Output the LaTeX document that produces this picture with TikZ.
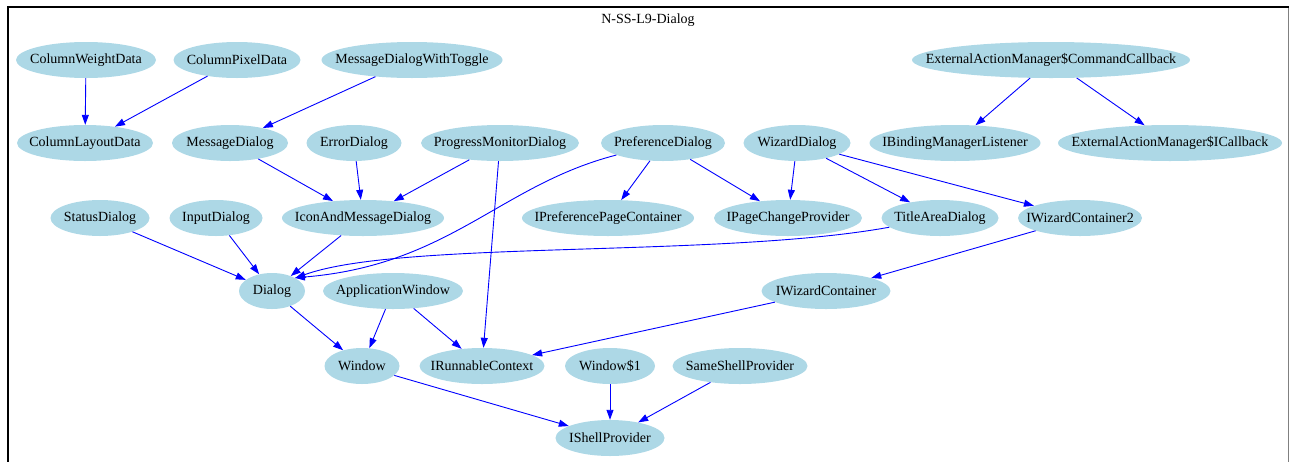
\documentclass[tikz,border=0pt]{standalone}
\usepackage{fontspec}
\setmainfont{Liberation Serif}
\usetikzlibrary{shapes.geometric,arrows.meta}
\definecolor{nodeblue}{HTML}{ADD8E6}
\begin{document}
\begin{tikzpicture}[x=1pt,y=-1pt,
  nd/.style={ellipse, fill=nodeblue, minimum height=36pt, inner sep=0pt,
    font=\fontsize{14}{16}\selectfont,
    execute at begin node={\hbox to 0pt\bgroup\hss},
    execute at end node={\hss\egroup}},
  edge/.style={draw=blue, line width=0.9pt, -{Triangle[length=10pt,width=7pt]}}]
\useasboundingbox (0,0) rectangle (1289,461);
\draw[line width=2pt] (8,462) -- (8,7) -- (1289,7);
\draw[gray, line width=1pt] (1288,8) -- (1288,462);
\node[font=\fontsize{14}{16}\selectfont] (title) at (648,20) {N-SS-L9-Dialog};
% row 1
\node[nd, minimum width=140pt] (cwd) at (86,60) {ColumnWeightData};
\node[nd, minimum width=127pt] (cpd) at (237,60) {ColumnPixelData};
\node[nd, minimum width=181pt] (mdwt) at (412,60) {MessageDialogWithToggle};
\node[nd, minimum width=278pt] (eamcc) at (1051,60) {ExternalActionManager\$CommandCallback};
% row 2
\node[nd, minimum width=136pt] (cld) at (85,143) {ColumnLayoutData};
\node[nd, minimum width=116pt] (md) at (230,143) {MessageDialog};
\node[nd, minimum width=95pt] (ed) at (354,143) {ErrorDialog};
\node[nd, minimum width=158pt] (pmd) at (500,143) {ProgressMonitorDialog};
\node[nd, minimum width=124pt] (pd) at (663,143) {PreferenceDialog};
\node[nd, minimum width=107pt] (wd) at (797,143) {WizardDialog};
\node[nd, minimum width=171pt] (ibml) at (955,143) {IBindingManagerListener};
\node[nd, minimum width=224pt] (eamic) at (1170,143) {ExternalActionManager\$ICallback};
% row 3
\node[nd, minimum width=99pt] (sd) at (100,218) {StatusDialog};
\node[nd, minimum width=93pt] (id) at (216,218) {InputDialog};
\node[nd, minimum width=162pt] (iamd) at (363,218) {IconAndMessageDialog};
\node[nd, minimum width=172pt] (ippc) at (608,218) {IPreferencePageContainer};
\node[nd, minimum width=148pt] (ipcp) at (788,218) {IPageChangeProvider};
\node[nd, minimum width=117pt] (tad) at (940,218) {TitleAreaDialog};
\node[nd, minimum width=124pt] (iwc2) at (1080,218) {IWizardContainer2};
% row 4
\node[nd, minimum width=66pt] (dlg) at (272,291) {Dialog};
\node[nd, minimum width=140pt] (aw) at (393,291) {ApplicationWindow};
\node[nd, minimum width=129pt] (iwc) at (826,291) {IWizardContainer};
% row 5
\node[nd, minimum width=75pt] (win) at (362,366) {Window};
\node[nd, minimum width=125pt] (irc) at (482,366) {IRunnableContext};
\node[nd, minimum width=90pt] (win1) at (610,366) {Window\$1};
\node[nd, minimum width=135pt] (ssp) at (740,366) {SameShellProvider};
% row 6
\node[nd, minimum width=109pt] (isp) at (610,438) {IShellProvider};
% edges
\draw[edge] (cwd) -- (cld);
\draw[edge] (cpd) -- (cld);
\draw[edge] (mdwt) -- (md);
\draw[edge] (eamcc) -- (ibml);
\draw[edge] (eamcc) -- (eamic);
\draw[edge] (md) -- (iamd);
\draw[edge] (ed) -- (iamd);
\draw[edge] (pmd) -- (iamd);
\draw[edge] (pmd) -- (irc);
\draw[edge] (pd) .. controls (500,185) and (450,265) .. (dlg.30);
\draw[edge] (pd) -- (ippc);
\draw[edge] (pd) -- (ipcp);
\draw[edge] (wd) -- (ipcp);
\draw[edge] (wd) -- (tad);
\draw[edge] (wd) -- (iwc2);
\draw[edge] (sd) -- (dlg);
\draw[edge] (id) -- (dlg);
\draw[edge] (iamd) -- (dlg);
\draw[edge] (tad) .. controls (720,258) and (400,240) .. (dlg.29);
\draw[edge] (iwc2) -- (iwc);
\draw[edge] (dlg) -- (win);
\draw[edge] (aw) -- (win);
\draw[edge] (aw) -- (irc);
\draw[edge] (iwc) -- (irc);
\draw[edge] (win) -- (isp);
\draw[edge] (win1) -- (isp);
\draw[edge] (ssp) -- (isp);
\end{tikzpicture}
\end{document}
